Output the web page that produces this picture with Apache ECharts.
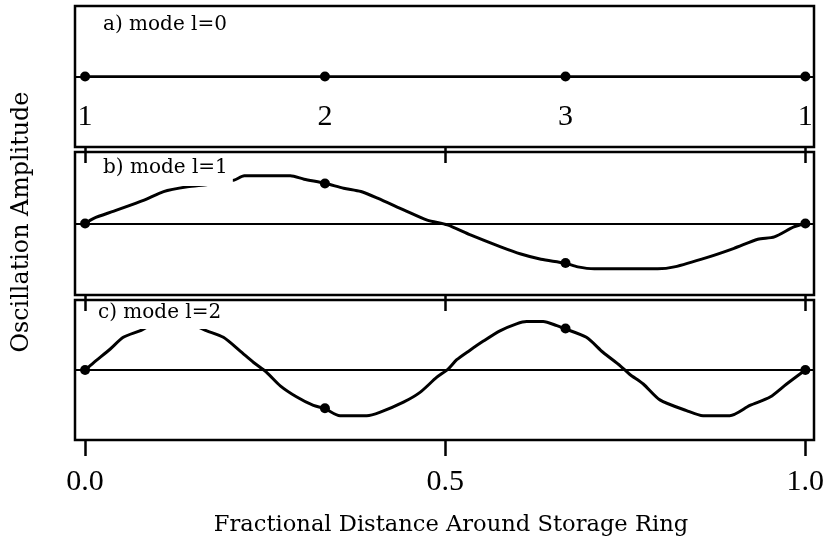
<!DOCTYPE html>
<html>
<head>
<meta charset="utf-8">
<script src="https://cdn.jsdelivr.net/npm/echarts@6/dist/echarts.min.js"></script>
<style>
  html, body { margin: 0; padding: 0; background: #fff; }
  #chart { width: 828px; height: 546px; }
</style>
</head>
<body>
<div id="chart"></div>
<script>
// Tick positions on the shared distance axis
const tickValues = [0, 0.5, 1.0];

// Node positions around the ring and their numbering
const nodeFrac = [0, 0.333, 0.667, 1.0];
const nodeLabels = ['1', '2', '3', '1'];

// Amplitude at the nodes for each mode
const nodeAmpA = [0, 0, 0, 0];
const nodeAmpB = [0, 0.84, -0.83, 0];
const nodeAmpC = [0, -0.82, 0.89, 0];

// Mode l=1 oscillation profile
const fracB = [0, 0.012, 0.040, 0.082, 0.109, 0.142, 0.170, 0.188, 0.207, 0.221, 0.285, 0.304,
  0.334, 0.359, 0.383, 0.406, 0.443, 0.475, 0.503, 0.535, 0.577, 0.605, 0.633, 0.666, 0.684,
  0.707, 0.795, 0.818, 0.864, 0.901, 0.934, 0.957, 0.984, 1.0];
const ampB = [0, 0.11, 0.26, 0.49, 0.67, 0.77, 0.82, 0.87, 0.91, 1.00, 1.00, 0.93,
  0.84, 0.74, 0.67, 0.53, 0.28, 0.07, -0.03, -0.24, -0.49, -0.64, -0.75, -0.83, -0.91,
  -0.95, -0.95, -0.91, -0.71, -0.52, -0.33, -0.28, -0.07, 0];

// Mode l=2 oscillation profile
const fracC = [0, 0.012, 0.035, 0.053, 0.076, 0.090, 0.120, 0.153, 0.169, 0.192, 0.215, 0.234,
  0.252, 0.271, 0.294, 0.317, 0.332, 0.354, 0.391, 0.409, 0.442, 0.465, 0.488, 0.504, 0.516,
  0.534, 0.553, 0.576, 0.599, 0.613, 0.636, 0.655, 0.665, 0.696, 0.719, 0.743, 0.756, 0.775,
  0.798, 0.835, 0.858, 0.895, 0.923, 0.951, 0.974, 1.0];
const ampC = [0, 0.16, 0.45, 0.70, 0.84, 0.94, 1.00, 0.94, 0.84, 0.70, 0.41, 0.16,
  -0.05, -0.34, -0.58, -0.76, -0.82, -0.98, -0.98, -0.91, -0.69, -0.48, -0.16, 0.02, 0.22,
  0.42, 0.62, 0.84, 0.99, 1.04, 1.04, 0.95, 0.89, 0.70, 0.38, 0.09, -0.09, -0.30,
  -0.64, -0.87, -0.98, -0.98, -0.76, -0.58, -0.30, 0];

const panelLabels = ['a) mode l=0', 'b) mode l=1', 'c) mode l=2'];
const xTitle = 'Fractional Distance Around Storage Ring';
const yTitle = 'Oscillation Amplitude';

const SERIF = '"DejaVu Serif", serif';
const DIGITS = '"Liberation Serif", serif';

const pairs = (xs, ys) => xs.map((x, i) => [x, ys[i]]);

const gridBoxes = [
  { top: 6, height: 141 },
  { top: 152, height: 143 },
  { top: 300, height: 140 }
];
const grids = gridBoxes.map(b => ({
  left: 75, right: 14, top: b.top, height: b.height,
  show: true, borderColor: '#000', borderWidth: 2.5, backgroundColor: 'transparent'
}));

// Every panel carries outward ticks at its bottom edge; only the last one is labelled
const xAxes = gridBoxes.map((b, i) => ({
  type: 'value', gridIndex: i, min: -0.014, max: 1.012, position: 'bottom',
  axisLine: { show: false, onZero: false },
  splitLine: { show: false },
  axisTick: { show: true, inside: false, customValues: tickValues, length: 16, lineStyle: { color: '#000', width: 2.5 } },
  axisLabel: {
    show: i === 2, customValues: tickValues, formatter: v => v.toFixed(1),
    margin: 27, fontSize: 30, lineHeight: 30, fontFamily: DIGITS, color: '#000'
  }
}));

const yAxes = gridBoxes.map((b, i) => ({
  type: 'value', gridIndex: i, min: -1.5, max: 1.5, show: false
}));

const zeroLine = {
  silent: true, symbol: ['none', 'none'], animation: false,
  label: { show: false },
  lineStyle: { color: '#000', width: 2, type: 'solid', opacity: 1 },
  emphasis: { disabled: true },
  data: [{ yAxis: 0 }]
};

const curves = [pairs(nodeFrac, nodeAmpA), pairs(fracB, ampB), pairs(fracC, ampC)];
const nodes = [nodeAmpA, nodeAmpB, nodeAmpC];

const series = [];
curves.forEach((data, i) => {
  series.push({
    type: 'line', xAxisIndex: i, yAxisIndex: i, data,
    showSymbol: false, animation: false, z: 3, smooth: i === 0 ? false : 0.25,
    lineStyle: { color: '#000', width: i === 0 ? 2.5 : 3 },
    markLine: zeroLine
  });
  series.push({
    type: 'scatter', xAxisIndex: i, yAxisIndex: i,
    data: pairs(nodeFrac, nodes[i]),
    symbolSize: 10, animation: false, z: 4,
    itemStyle: { color: '#000', opacity: 1 },
    label: i === 0 ? {
      show: true, position: 'inside', offset: [0, 40.5],
      formatter: p => nodeLabels[p.dataIndex],
      fontSize: 30, fontFamily: DIGITS, color: '#000', textBorderWidth: 0
    } : { show: false }
  });
});

// Panel captions sit on a white box that hides the curve behind them
const captionPos = [
  { x: 99, y: 13, pad: [2, 2, 4, 4] },
  { x: 99, y: 156, pad: [2, 5, 8, 4] },
  { x: 94, y: 303, pad: [0, 1, 6, 4] }
];
const graphic = panelLabels.map((t, i) => ({
  type: 'text', x: captionPos[i].x, y: captionPos[i].y, z: 100,
  style: {
    text: t, font: '20px ' + SERIF, fill: '#000',
    backgroundColor: '#fff', padding: captionPos[i].pad,
    align: 'left', verticalAlign: 'top'
  }
}));
graphic.push({
  type: 'text', x: 451, y: 525, z: 100,
  style: { text: xTitle, font: '22.6px ' + SERIF, fill: '#000', align: 'center', verticalAlign: 'middle' }
});
graphic.push({
  type: 'text', x: 22, y: 222, rotation: Math.PI / 2, z: 100,
  style: { text: yTitle, font: '23.8px ' + SERIF, fill: '#000', align: 'center', verticalAlign: 'middle' }
});

const chart = echarts.init(document.getElementById('chart'), null, { renderer: 'canvas' });
chart.setOption({
  backgroundColor: '#fff',
  animation: false,
  grid: grids,
  xAxis: xAxes,
  yAxis: yAxes,
  series,
  graphic
});
</script>
</body>
</html>
